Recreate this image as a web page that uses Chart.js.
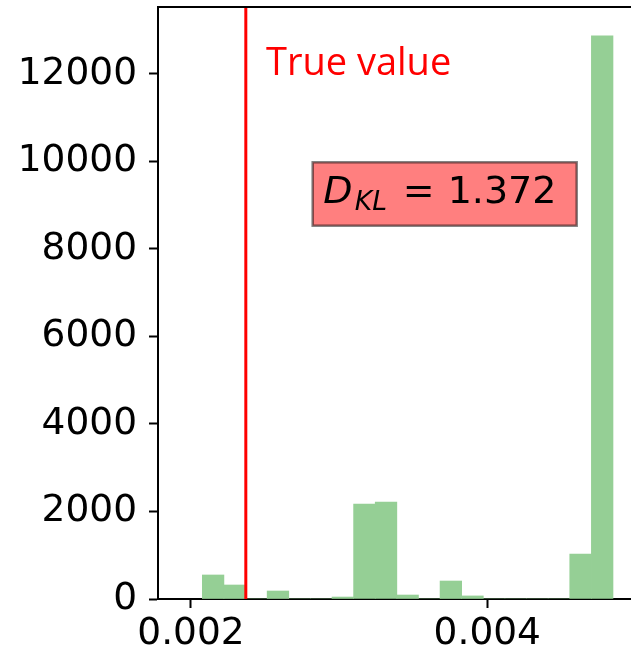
<!DOCTYPE html>
<html>
<head>
<meta charset="utf-8">
<script src="https://cdn.jsdelivr.net/npm/chart.js@4.4.1/dist/chart.umd.min.js"></script>
<style>
  html, body { margin: 0; padding: 0; background: #fff; }
  #wrap { width: 631px; height: 654px; }
</style>
</head>
<body>
<div id="wrap"><canvas id="histChart" width="631" height="654"></canvas></div>
<script>
// histogram bins (centres) and counts
const binCenters = [
  0.0021493, 0.0022952, 0.0024411, 0.0025870, 0.0027329, 0.0028788, 0.0030247,
  0.0031706, 0.0033165, 0.0034624, 0.0036083, 0.0037542, 0.0039001, 0.0040460,
  0.0041919, 0.0043378, 0.0044837, 0.0046296, 0.0047755
];
const binCounts = [
  549, 320, 0, 183, 0, 0, 45,
  2171, 2217, 91, 0, 411, 70, 0,
  0, 0, 0, 1029, 12870
];
const xTicks = [0.002, 0.004];
const yTicks = [0, 2000, 4000, 6000, 8000, 10000, 12000];
const xRange = [0.0017773, 0.0049700];
const yRange = [0, 13531];
const trueValue = 0.00237;
const trueLabel = "True value";
const klValue = "1.372";

const $ = (id) => document.getElementById(id);

const tickFont = { family: "DejaVu Sans", size: 37.5 };

// text bits and the top spine
const notes = {
  id: "notes",
  afterDatasetsDraw(chart) {
    const { ctx, chartArea, scales: { x, y } } = chart;
    ctx.save();

    // top spine
    ctx.strokeStyle = "#000";
    ctx.lineWidth = 2;
    ctx.beginPath();
    ctx.moveTo(chartArea.left - 1, chartArea.top);
    ctx.lineTo(chartArea.right, chartArea.top);
    ctx.stroke();

    // "True value"
    ctx.fillStyle = "#ff0000";
    ctx.font = '38px "Open Sans"';
    ctx.textBaseline = "alphabetic";
    ctx.textAlign = "left";
    ctx.fillText(trueLabel, x.getPixelForValue(0.002506), y.getPixelForValue(11977));

    // D_KL box
    const cx = x.getPixelForValue(0.0037124);
    const cy = y.getPixelForValue(9257);
    const bw = 264, bh = 63.4;
    const bx = cx - bw / 2, by = cy - bh / 2;
    ctx.fillStyle = "rgba(255,0,0,0.5)";
    ctx.fillRect(bx, by, bw, bh);
    ctx.strokeStyle = "rgba(0,0,0,0.5)";
    ctx.lineWidth = 2.5;
    ctx.strokeRect(bx, by, bw, bh);

    ctx.fillStyle = "#000";
    ctx.font = 'italic 38px "DejaVu Sans"';
    ctx.fillText("D", bx + 10.5, by + 41);
    ctx.font = 'italic 26.6px "DejaVu Sans"';
    ctx.fillText("KL", bx + 42, by + 48);
    ctx.font = '38px "DejaVu Sans"';
    ctx.fillText("=", bx + 90, by + 41);
    ctx.fillText(klValue, bx + 135, by + 41);

    ctx.restore();
  }
};

new Chart($("histChart"), {
  type: "bar",
  data: {
    datasets: [
      {
        type: "line",
        data: [{ x: trueValue, y: yRange[0] }, { x: trueValue, y: yRange[1] }],
        borderColor: "#ff0000",
        borderWidth: 3,
        pointRadius: 0,
        order: 0
      },
      {
        data: binCenters.map((c, i) => ({ x: c, y: binCounts[i] })),
        backgroundColor: "#95cf95",
        borderWidth: 0,
        barPercentage: 1,
        categoryPercentage: 1,
        grouped: false,
        order: 1
      }
    ]
  },
  options: {
    responsive: false,
    animation: false,
    devicePixelRatio: 1,
    layout: { padding: { top: 7, right: 0, bottom: 0, left: 0 } },
    plugins: { legend: { display: false }, tooltip: { enabled: false } },
    scales: {
      x: {
        type: "linear",
        offset: false,
        min: xRange[0],
        max: xRange[1],
        afterBuildTicks: (s) => { s.ticks = xTicks.map(v => ({ value: v })); },
        afterFit: (s) => { s.height = 55; s.paddingLeft = 0; s.paddingRight = 0; },
        grid: { offset: false, drawOnChartArea: false, tickLength: 9, tickWidth: 2, color: "#000" },
        border: { display: true, color: "#000", width: 2 },
        ticks: {
          color: "#000",
          font: tickFont,
          padding: 4,
          maxRotation: 0,
          autoSkip: false,
          callback: (v) => v.toFixed(3)
        }
      },
      y: {
        min: yRange[0],
        max: yRange[1],
        afterBuildTicks: (s) => { s.ticks = yTicks.map(v => ({ value: v })); },
        afterFit: (s) => { s.width = 158; s.paddingTop = 0; s.paddingBottom = 0; },
        grid: { drawOnChartArea: false, tickLength: 9, tickWidth: 2, color: "#000" },
        border: { display: true, color: "#000", width: 2 },
        ticks: {
          color: "#000",
          font: tickFont,
          padding: 12,
          callback: (v) => String(v)
        }
      }
    }
  },
  plugins: [notes]
});
</script>
</body>
</html>
